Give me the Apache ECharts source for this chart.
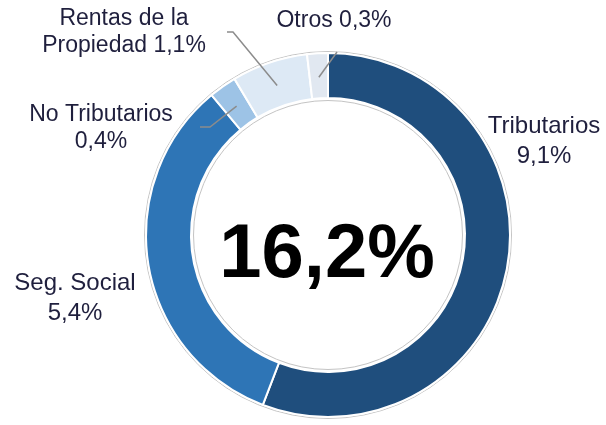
<!DOCTYPE html>
<html>
<head>
<meta charset="utf-8">
<title>Ingresos 16,2%</title>
<script src="https://cdn.jsdelivr.net/npm/echarts@6/dist/echarts.min.js"></script>
<style>
    html, body { margin: 0; padding: 0; background: #fff; }
    #chart { width: 606px; height: 425px; }
</style>
</head>
<body>
<div id="chart"></div>
<script>
// datos (% del PIB)
var categories = ['Tributarios', 'Seg. Social', 'No Tributarios', 'Rentas de la\nPropiedad', 'Otros'];
var values = [9.1, 5.4, 0.4, 1.1, 0.3];
var separators = ['\n', '\n', '\n', ' ', ' '];
var totalLabel = '16,2%';

var colors = ['#1f4e7d', '#2e75b6', '#9dc3e6', '#dde9f5', '#e1e8f1'];
var textColor = '#1f1f3d';
var center = [328, 235];

// posiciones de etiquetas (centro del bloque de texto)
var labelPos = [[544, 141], [75, 298], [101, 128], [124, 32], [334, 21]];
// puntos de la linea guia despues del punto en el anillo
var leaderPts = [null, null, [[210, 127], [200, 127]], [[233, 32], [227, 32]], [[337, 52]]];

function fmt(i) {
    return categories[i] + separators[i] + String(values[i]).replace('.', ',') + '%';
}

var ringData = categories.map(function (name, i) {
    return {
        name: name,
        value: values[i],
        itemStyle: { color: colors[i] },
        label: { show: leaderPts[i] == null, fontSize: 24 }
    };
});
var guideData = categories.map(function (name, i) {
    return {
        name: name,
        value: values[i],
        label: { show: leaderPts[i] != null },
        labelLine: { show: leaderPts[i] != null }
    };
});

var chart = echarts.init(document.getElementById('chart'));
chart.setOption({
    backgroundColor: '#fff',
    animation: false,
    graphic: [{
        type: 'text',
        x: 327,
        y: 256,
        z: 10,
        style: {
            text: totalLabel,
            fill: '#000',
            font: 'bold 76px "Liberation Sans", Arial, sans-serif',
            textAlign: 'center',
            textVerticalAlign: 'middle'
        }
    }],
    series: [{
        // contorno gris del anillo
        type: 'pie',
        silent: true,
        center: center,
        radius: [134.5, 183.5],
        label: { show: false },
        labelLine: { show: false },
        itemStyle: { color: 'rgba(0,0,0,0)', borderColor: '#c4c4c4', borderWidth: 1 },
        data: [{ value: 1 }]
    }, {
        type: 'pie',
        silent: true,
        center: center,
        radius: [137, 182],
        startAngle: 90,
        clockwise: true,
        avoidLabelOverlap: false,
        itemStyle: { borderColor: '#fff', borderWidth: 2 },
        label: {
            position: 'outside',
            color: textColor,
            fontFamily: '"Liberation Sans", Arial, sans-serif',
            fontSize: 24,
            lineHeight: 30,
            align: 'center',
            formatter: function (p) { return fmt(p.dataIndex); }
        },
        labelLine: { show: false },
        labelLayout: function (p) {
            var pos = labelPos[p.dataIndex];
            return { x: pos[0], y: pos[1], align: 'center', verticalAlign: 'middle' };
        },
        data: ringData
    }, {
        // serie invisible para las lineas guia de las porciones pequenas
        type: 'pie',
        silent: true,
        z: 3,
        center: center,
        radius: [0, 158],
        startAngle: 90,
        clockwise: true,
        avoidLabelOverlap: false,
        itemStyle: { color: 'rgba(0,0,0,0)' },
        label: {
            position: 'outside',
            color: textColor,
            fontFamily: '"Liberation Sans", Arial, sans-serif',
            fontSize: 23,
            lineHeight: 27,
            align: 'center',
            formatter: function (p) { return fmt(p.dataIndex); }
        },
        labelLine: {
            length: 10,
            length2: 5,
            lineStyle: { color: '#8c8c8c', width: 1.5 }
        },
        labelLayout: function (p) {
            var pos = labelPos[p.dataIndex];
            var pts = leaderPts[p.dataIndex];
            var res = { x: pos[0], y: pos[1], align: 'center', verticalAlign: 'middle' };
            if (pts && p.labelLinePoints) {
                res.labelLinePoints = [p.labelLinePoints[0]].concat(pts);
            }
            return res;
        },
        data: guideData
    }]
});
</script>
</body>
</html>
